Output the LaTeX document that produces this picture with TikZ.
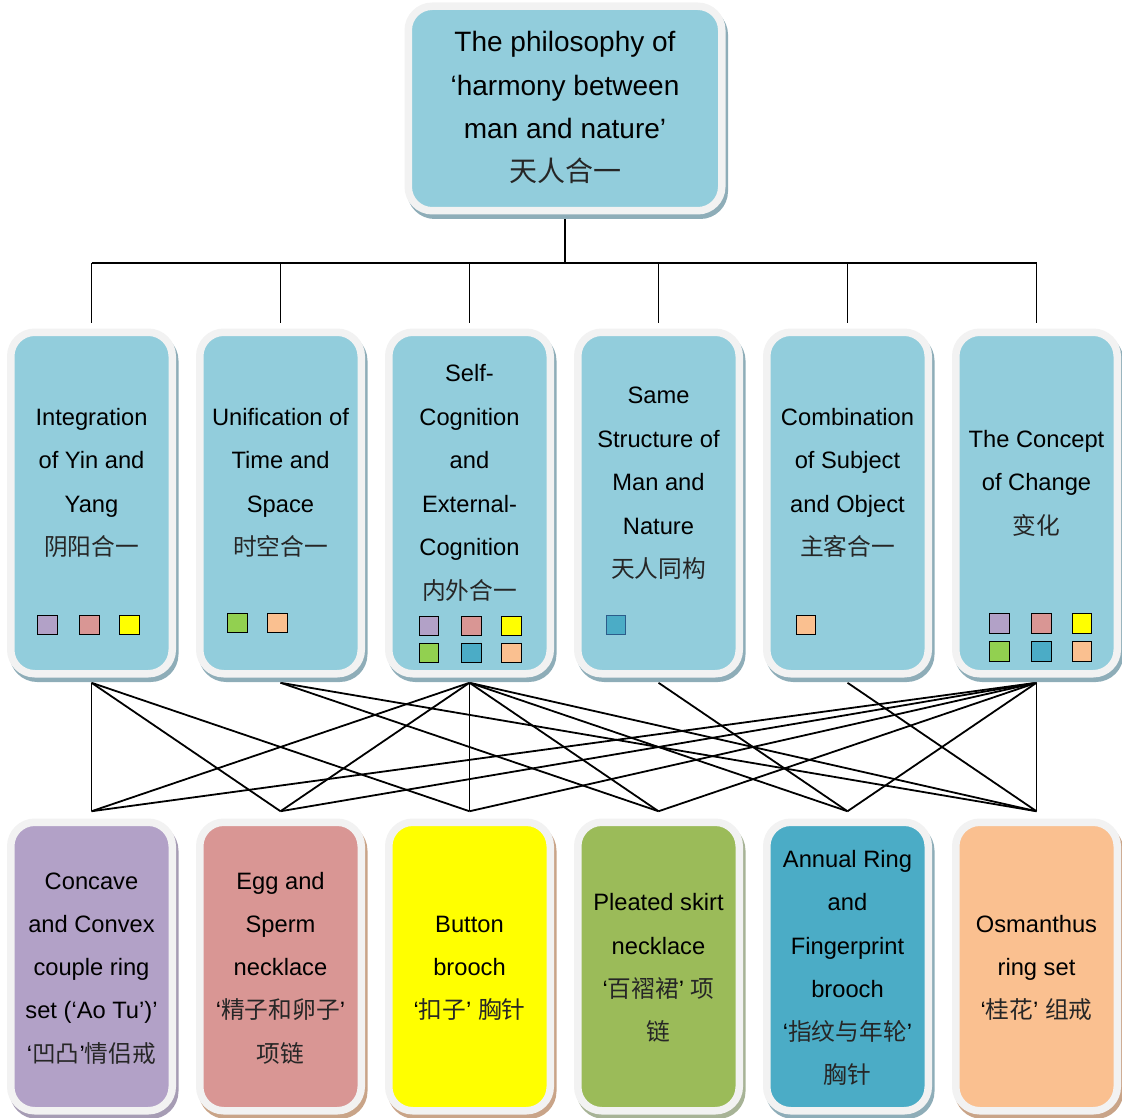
\documentclass[tikz,border=0pt]{standalone}
\usepackage{fontspec}
\setmainfont{Liberation Sans}
\newfontfamily\cjk{Noto Sans CJK SC}
\usetikzlibrary{backgrounds,calc}

% palette
\definecolor{aqua}{HTML}{92CDDC}
\definecolor{framecol}{HTML}{F2F2F2}
\definecolor{shBlue}{HTML}{8EADB8}
\definecolor{shPurple}{HTML}{A69CB4}
\definecolor{shTan}{HTML}{C9A488}
\definecolor{shGreen}{HTML}{A7B396}
\definecolor{cPurple}{HTML}{B2A1C7}
\definecolor{cPink}{HTML}{D99694}
\definecolor{cYellow}{HTML}{FFFF00}
\definecolor{cGreen}{HTML}{9BBB59}
\definecolor{cBlue}{HTML}{4BACC6}
\definecolor{cOrange}{HTML}{FAC090}
\definecolor{sqGreen}{HTML}{92D050}
\definecolor{sqBlueEdge}{HTML}{2B5C8A}

% Chinese text
\newcommand\zh[1]{{\cjk\color{black!85}#1}}
% centred multi-line text with a fixed line pitch
\newcommand\cardtext[3]{{\fontsize{#1}{#2}\selectfont\begin{tabular}{@{}c@{}}#3\end{tabular}}}

\tikzset{
  card/.style 2 args={draw=framecol, fill=#1, line width=7.5pt, rounded corners=24pt,
    inner sep=0pt, outer sep=0pt,
    preaction={draw=#2, fill=#2, line width=7.5pt,
      transform canvas={xshift=2.5pt, yshift=-4.5pt}}},
  topcard/.style={card={aqua}{shBlue}, minimum width=313.5pt, minimum height=204.5pt},
  midcard/.style={card={aqua}{shBlue}, minimum width=161.5pt, minimum height=341.5pt},
  lowcard/.style 2 args={card={#1}{#2}, minimum width=161.5pt, minimum height=288.5pt},
  txt/.style={inner sep=0pt, outer sep=0pt, text=black},
  sq/.style={draw=black, line width=1.4pt, fill=#1, minimum size=19.5pt,
    inner sep=0pt, outer sep=0pt},
  wire/.style={line width=1.8pt, black, line join=round},
}

\begin{document}
\begin{tikzpicture}[x=1pt,y=-1pt]
\useasboundingbox (0,0) rectangle (1122,1118);

% ---- root ----
\node[topcard] (top) at (565,108.5) {};
\node[txt] (topT) at (565,108) {\cardtext{28}{43.3}{The philosophy of\\‘harmony between\\man and nature’\\\zh{天人合一}}};

% ---- six principles ----
\node[midcard] (M1) at (91.5,503) {};
\node[midcard] (M2) at (280.5,503) {};
\node[midcard] (M3) at (469.5,503) {};
\node[midcard] (M4) at (658.5,503) {};
\node[midcard] (M5) at (847.5,503) {};
\node[midcard] (M6) at (1036.5,503) {};

\node[txt] (M1t) at (91.5,482) {\cardtext{23.7}{43.5}{Integration\\of Yin and\\Yang\\\zh{阴阳合一}}};
\node[txt] (M2t) at (280.5,482) {\cardtext{23.7}{43.5}{Unification of\\Time and\\Space\\\zh{时空合一}}};
\node[txt] (M3t) at (469.5,482) {\cardtext{23.7}{43.5}{Self-\\Cognition\\and\\External-\\Cognition\\\zh{内外合一}}};
\node[txt] (M4t) at (658.5,482) {\cardtext{23.7}{43.5}{Same\\Structure of\\Man and\\Nature\\\zh{天人同构}}};
\node[txt] (M5t) at (847.5,482) {\cardtext{23.7}{43.5}{Combination\\of Subject\\and Object\\\zh{主客合一}}};
\node[txt] (M6t) at (1036.5,482) {\cardtext{23.7}{43.5}{The Concept\\of Change\\\zh{变化}}};

% colour keys of the linked works
\node[sq=cPurple] (k1a) at (47.5,625) {};
\node[sq=cPink]   (k1b) at (89.5,625) {};
\node[sq=cYellow] (k1c) at (129.5,625) {};

\node[sq=sqGreen] (k2a) at (237.5,623) {};
\node[sq=cOrange] (k2b) at (277.5,623) {};

\node[sq=cPurple] (k3a) at (429,626) {};
\node[sq=cPink]   (k3b) at (471.5,626) {};
\node[sq=cYellow] (k3c) at (511.5,626) {};
\node[sq=sqGreen] (k3d) at (429,653) {};
\node[sq=cBlue]   (k3e) at (471.5,653) {};
\node[sq=cOrange] (k3f) at (511.5,653) {};

\node[sq=cBlue, draw=sqBlueEdge] (k4a) at (616,625) {};

\node[sq=cOrange] (k5a) at (806,625) {};

\node[sq=cPurple] (k6a) at (999.5,623.5) {};
\node[sq=cPink]   (k6b) at (1041.5,623.5) {};
\node[sq=cYellow] (k6c) at (1082,623.5) {};
\node[sq=sqGreen] (k6d) at (999.5,651.5) {};
\node[sq=cBlue]   (k6e) at (1041.5,651.5) {};
\node[sq=cOrange] (k6f) at (1082,651.5) {};

% ---- six works ----
\node[lowcard={cPurple}{shPurple}] (B1) at (91.5,966.5) {};
\node[lowcard={cPink}{shTan}]      (B2) at (280.5,966.5) {};
\node[lowcard={cYellow}{shTan}]    (B3) at (469.5,966.5) {};
\node[lowcard={cGreen}{shGreen}]   (B4) at (658.5,966.5) {};
\node[lowcard={cBlue}{shBlue}]     (B5) at (847.5,966.5) {};
\node[lowcard={cOrange}{shTan}]    (B6) at (1036.5,966.5) {};

\node[txt] (B1t) at (91.5,967) {\cardtext{23.7}{43.3}{Concave\\and Convex\\couple ring\\set (‘Ao Tu’)’\\‘\zh{凹凸}’\zh{情侣戒}}};
\node[txt] (B2t) at (280.5,967) {\cardtext{23.7}{43.3}{Egg and\\Sperm\\necklace\\‘\zh{精子和卵子}’\\\zh{项链}}};
\node[txt] (B3t) at (469.5,967) {\cardtext{23.7}{43.3}{Button\\brooch\\‘\zh{扣子}’ \zh{胸针}}};
\node[txt] (B4t) at (658.5,967) {\cardtext{23.7}{43.3}{Pleated skirt\\necklace\\‘\zh{百褶裙}’ \zh{项}\\\zh{链}}};
\node[txt] (B5t) at (847.5,967) {\cardtext{23.7}{43.3}{Annual Ring\\and\\Fingerprint\\brooch\\‘\zh{指纹与年轮}’\\\zh{胸针}}};
\node[txt] (B6t) at (1036.5,967) {\cardtext{23.7}{43.3}{Osmanthus\\ring set\\‘\zh{桂花}’ \zh{组戒}}};

% connector end points: just outside each card's frame and shadow
\coordinate (bus) at (0,263);
\foreach \i in {1,...,6}{
  \coordinate (M\i-in)  at ($(M\i.north)+(0,-9)$);
  \coordinate (M\i-out) at ($(M\i.south)+(0,9)$);
  \coordinate (B\i-in)  at ($(B\i.north)+(0,-11)$);
}

% ---- connectors ----
\begin{pgfonlayer}{background}
  \draw[wire] (top.south) -- (top.south |- bus);
  \draw[wire] (M1.north |- bus) -- (M6.north |- bus);
  \foreach \i in {1,...,6}{
    \draw[wire] (M\i.north |- bus) -- (M\i-in);
  }
  \foreach \a/\b in {1/1,1/2,1/3, 2/4,2/6, 3/1,3/2,3/3,3/4,3/5,3/6,
                     4/5, 5/6, 6/1,6/2,6/3,6/4,6/5,6/6}{
    \draw[wire] (M\a-out) -- (B\b-in);
  }
\end{pgfonlayer}
\end{tikzpicture}
\end{document}
